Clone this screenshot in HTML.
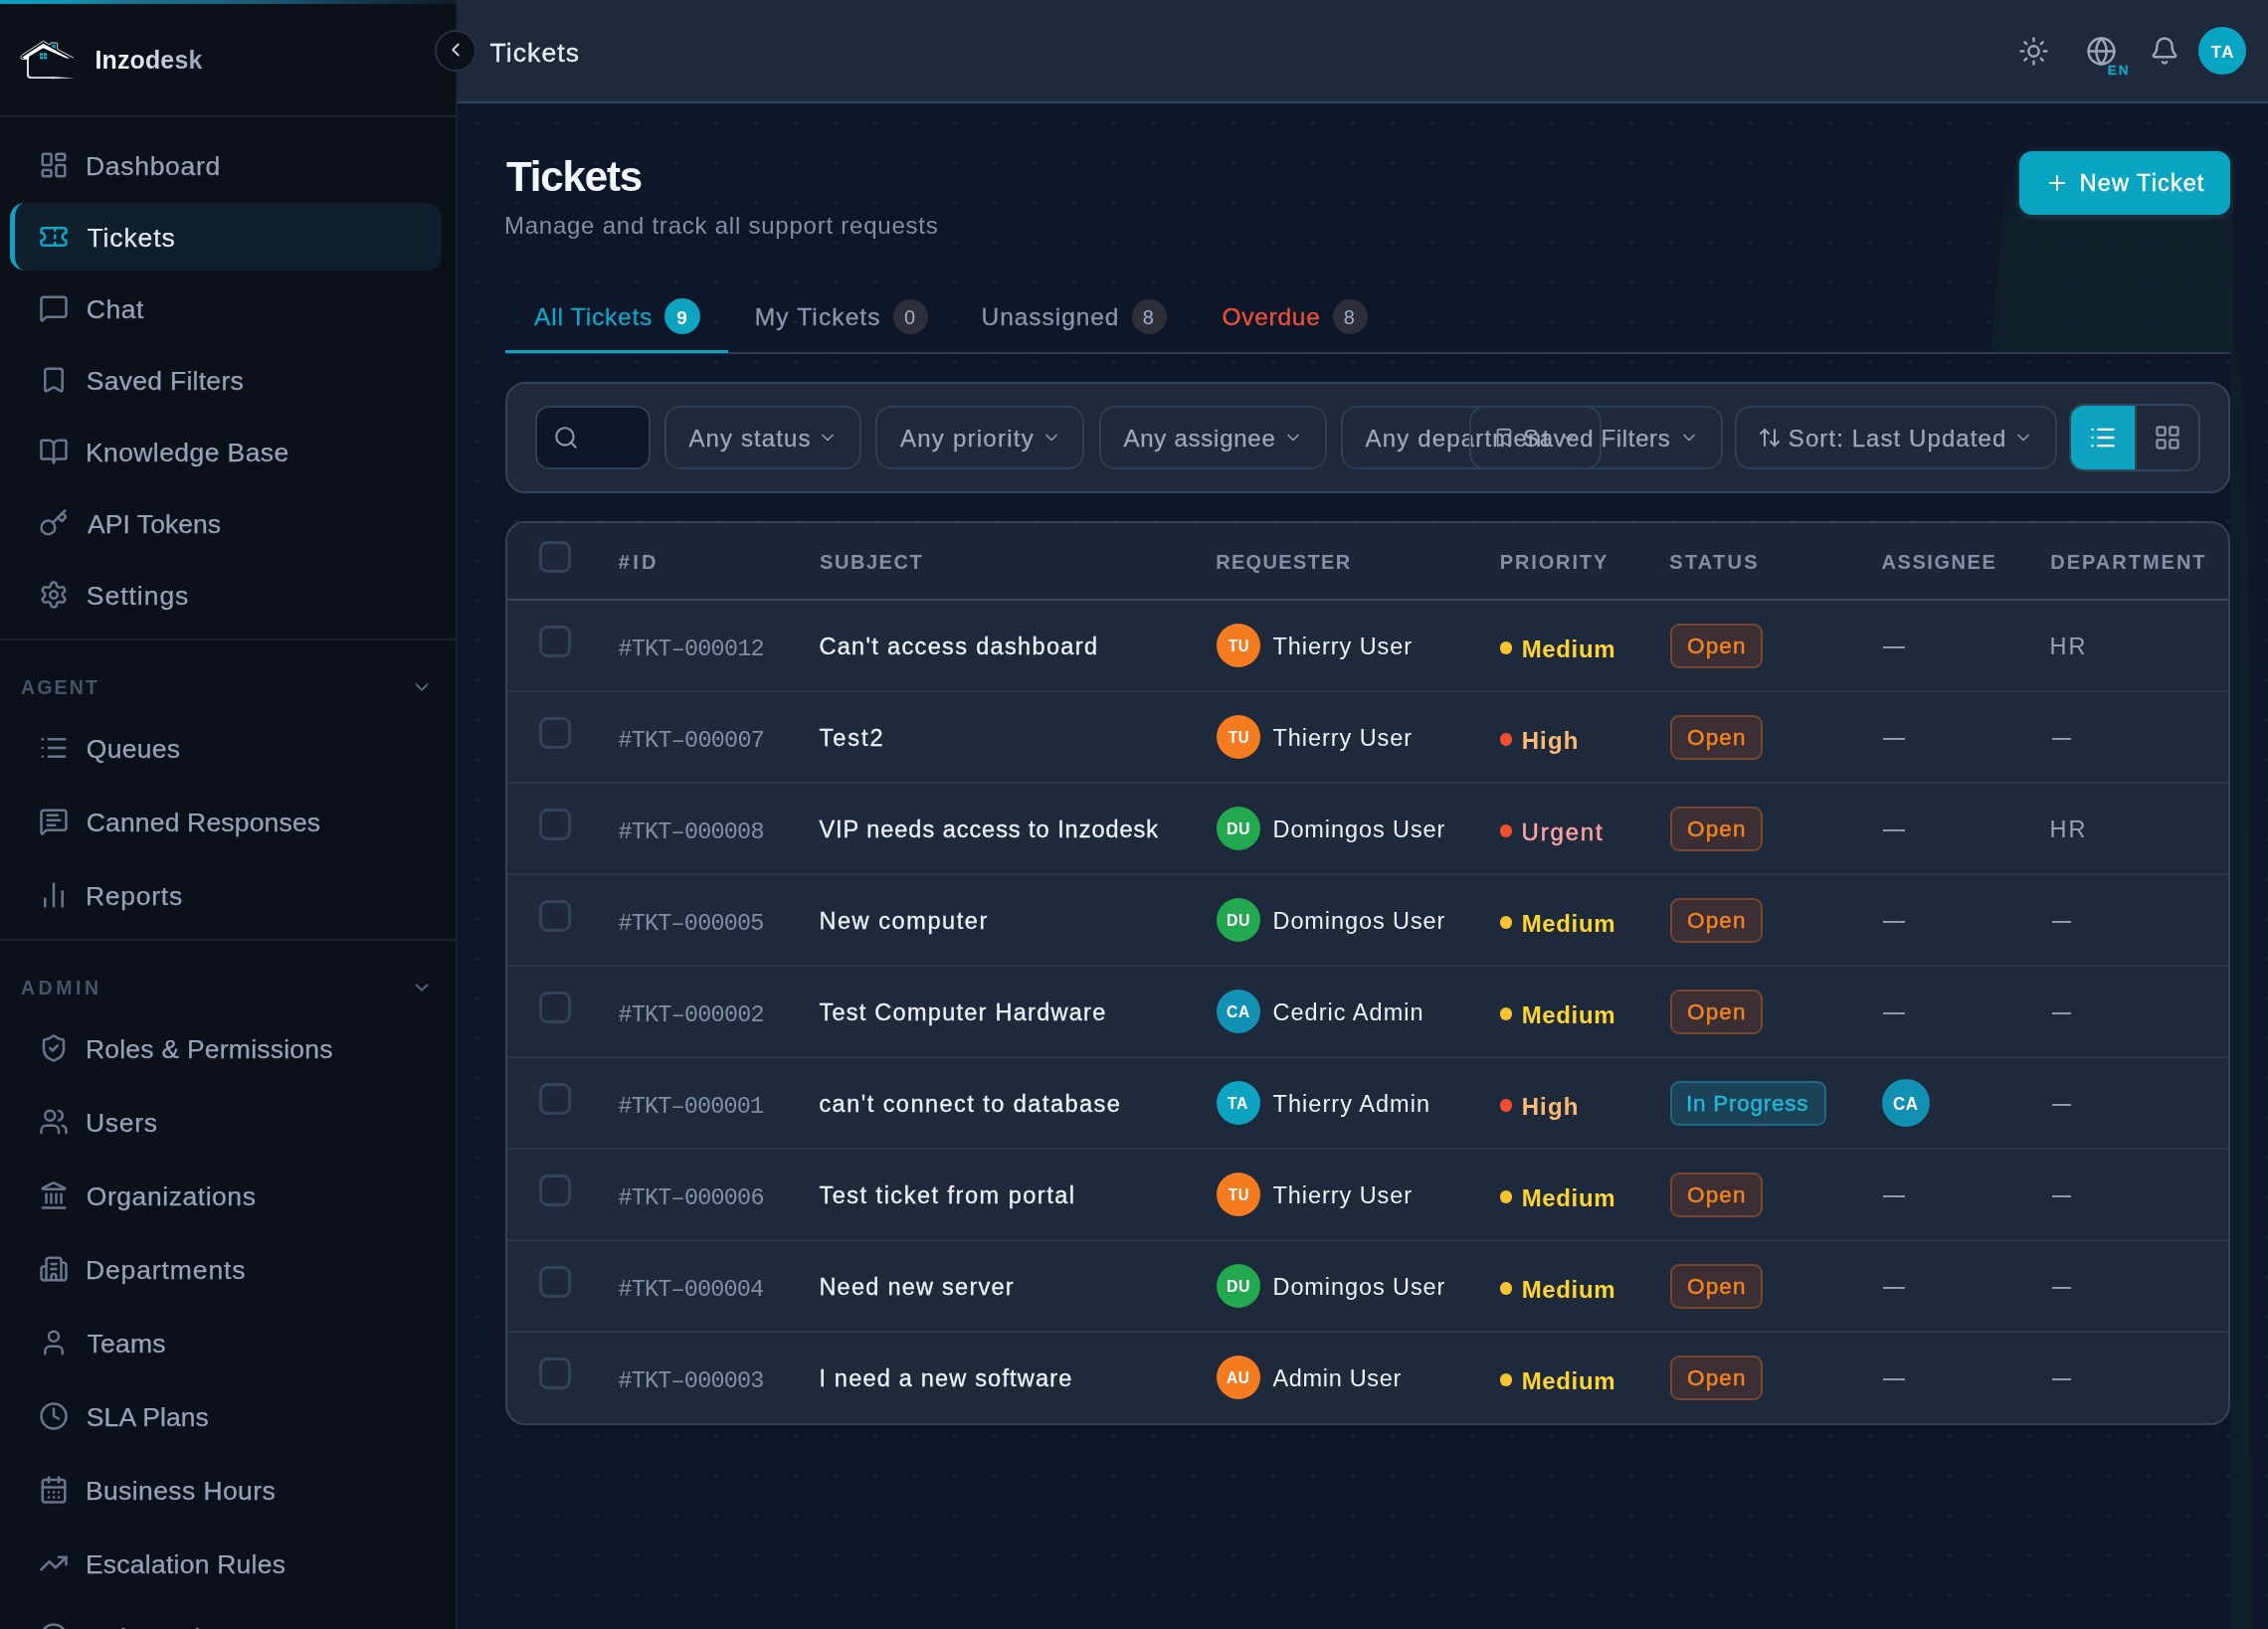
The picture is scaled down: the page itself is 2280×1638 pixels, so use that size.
<!DOCTYPE html><html lang="en"><head><meta charset="utf-8"><title>Tickets</title><style>html,body{margin:0;padding:0;background:#0e1629;}body{width:2280px;height:1638px;position:relative;overflow:hidden;font-family:"Liberation Sans",sans-serif;}</style></head><body><div style="position:absolute;left:0;top:0;width:2280px;height:1638px;will-change:transform"><div style="position:absolute;left:460px;top:104px;width:1820px;height:1534px;background-color:#0e1629;background-image:radial-gradient(circle at 20px 20px,#11262f 0,#11262f 1.3px,rgba(17,38,47,0) 2.8px);background-size:40px 40px;"></div><div style="position:absolute;left:1990px;top:150px;width:290px;height:1488px;background-color:rgba(16,74,46,0.175);-webkit-mask-image:linear-gradient(180deg,rgba(0,0,0,0) 8px,#000 72px);mask-image:linear-gradient(180deg,rgba(0,0,0,0) 8px,#000 72px);background-image:radial-gradient(circle at 20px 20px,#0f1a31 0,#0f1a31 1.8px,rgba(15,26,49,0) 3.2px);background-size:40px 40px;background-position:30px 34px;clip-path:polygon(29px 7px,254.5px 7px,257px 204px,266px 250px,269px 370px,272px 550px,273.5px 1488px,252.5px 1488px,252px 206px,11px 206px);"></div><div style="position:absolute;left:509.10px;top:156.50px;height:42px;line-height:42px;font-family:'Liberation Sans', sans-serif;font-size:42px;font-weight:700;letter-spacing:-1.15px;white-space:nowrap;color:#f3f6fa;">Tickets</div><div style="position:absolute;left:506.90px;top:214.70px;height:24px;line-height:24px;font-family:'Liberation Sans', sans-serif;font-size:24px;font-weight:400;letter-spacing:0.767px;white-space:nowrap;color:#7f90a9;">Manage and track all support requests</div><div style="position:absolute;left:2030px;top:152px;width:212px;height:64px;box-sizing:border-box;background:#0aa5c3;border-radius:13px;box-shadow:0 1px 8px rgba(90,112,138,0.42);"></div><div style="position:absolute;left:2056.0px;top:172.0px;width:24px;height:24px;color:#fff"><svg width="24" height="24" viewBox="0 0 24 24" fill="none" stroke="currentColor" stroke-width="2" stroke-linecap="round" stroke-linejoin="round" style="display:block;"><path d="M5 12h14"/><path d="M12 5v14"/></svg></div><div style="position:absolute;left:2090.70px;top:173.25px;height:23.5px;line-height:23.5px;font-family:'Liberation Sans', sans-serif;font-size:23.5px;font-weight:400;letter-spacing:1.078px;white-space:nowrap;color:#fff;-webkit-text-stroke:0.4px #fff;">New Ticket</div><div style="position:absolute;left:508px;top:354px;width:1734px;height:2px;box-sizing:border-box;background:#2c3b50"></div><div style="position:absolute;left:508px;top:352px;width:224px;height:3px;box-sizing:border-box;background:#0fa3c2"></div><div style="position:absolute;left:537.00px;top:306.75px;height:24.5px;line-height:24.5px;font-family:'Liberation Sans', sans-serif;font-size:24.5px;font-weight:400;letter-spacing:0.81px;white-space:nowrap;color:#13a6c5;-webkit-text-stroke:0.3px #13a6c5;">All Tickets</div><div style="position:absolute;left:668px;top:300px;width:36px;height:36px;box-sizing:border-box;border-radius:50%;background:#0fa3c2;"></div><div style="position:absolute;left:680.20px;top:309.50px;height:19px;line-height:19px;font-family:'Liberation Sans', sans-serif;font-size:19px;font-weight:700;letter-spacing:0px;white-space:nowrap;color:#fff;">9</div><div style="position:absolute;left:758.75px;top:306.75px;height:24.5px;line-height:24.5px;font-family:'Liberation Sans', sans-serif;font-size:24.5px;font-weight:400;letter-spacing:1.122px;white-space:nowrap;color:#8697b0;-webkit-text-stroke:0.3px #8697b0;">My Tickets</div><div style="position:absolute;left:897.5px;top:300.5px;width:35px;height:35px;box-sizing:border-box;border-radius:50%;background:#2d2f3b;"></div><div style="position:absolute;left:908.90px;top:309.00px;height:20px;line-height:20px;font-family:'Liberation Sans', sans-serif;font-size:20px;font-weight:400;letter-spacing:0px;white-space:nowrap;color:#9fb0c8;">0</div><div style="position:absolute;left:986.60px;top:306.75px;height:24.5px;line-height:24.5px;font-family:'Liberation Sans', sans-serif;font-size:24.5px;font-weight:400;letter-spacing:0.944px;white-space:nowrap;color:#8697b0;-webkit-text-stroke:0.3px #8697b0;">Unassigned</div><div style="position:absolute;left:1137.5px;top:300.5px;width:35px;height:35px;box-sizing:border-box;border-radius:50%;background:#2d2f3b;"></div><div style="position:absolute;left:1148.80px;top:309.00px;height:20px;line-height:20px;font-family:'Liberation Sans', sans-serif;font-size:20px;font-weight:400;letter-spacing:0px;white-space:nowrap;color:#9fb0c8;">8</div><div style="position:absolute;left:1228.40px;top:306.75px;height:24.5px;line-height:24.5px;font-family:'Liberation Sans', sans-serif;font-size:24.5px;font-weight:400;letter-spacing:0.742px;white-space:nowrap;color:#ee5135;-webkit-text-stroke:0.3px #ee5135;">Overdue</div><div style="position:absolute;left:1339.5px;top:300.5px;width:35px;height:35px;box-sizing:border-box;border-radius:50%;background:#2d2f3b;"></div><div style="position:absolute;left:1350.80px;top:309.00px;height:20px;line-height:20px;font-family:'Liberation Sans', sans-serif;font-size:20px;font-weight:400;letter-spacing:0px;white-space:nowrap;color:#9fb0c8;">8</div><div style="position:absolute;left:508px;top:384px;width:1734px;height:112px;box-sizing:border-box;background:#1e293b;border:2px solid #2f455e;border-radius:20px;"></div><div style="position:absolute;left:538px;top:408px;width:116px;height:64px;box-sizing:border-box;background:#0e162a;border:2px solid #2c4159;border-radius:14px;"></div><div style="position:absolute;left:556.0px;top:427.0px;width:26px;height:26px;color:#8797af"><svg width="26" height="26" viewBox="0 0 24 24" fill="none" stroke="currentColor" stroke-width="2" stroke-linecap="round" stroke-linejoin="round" style="display:block;"><circle cx="11" cy="11" r="8"/><path d="m21 21-4.3-4.3"/></svg></div><div style="position:absolute;left:668px;top:408px;width:198px;height:64px;box-sizing:border-box;border:2px solid #2c4159;border-radius:16px;"></div><div style="position:absolute;left:692.50px;top:428.70px;height:24px;line-height:24px;font-family:'Liberation Sans', sans-serif;font-size:24px;font-weight:400;letter-spacing:1.106px;white-space:nowrap;color:#9aa9bf;-webkit-text-stroke:0.25px #9aa9bf;">Any status</div><div style="position:absolute;left:822.0px;top:430.0px;width:20px;height:20px;color:#8d9db5"><svg width="20" height="20" viewBox="0 0 24 24" fill="none" stroke="currentColor" stroke-width="2" stroke-linecap="round" stroke-linejoin="round" style="display:block;"><path d="m6 9 6 6 6-6"/></svg></div><div style="position:absolute;left:880px;top:408px;width:210px;height:64px;box-sizing:border-box;border:2px solid #2c4159;border-radius:16px;"></div><div style="position:absolute;left:905.00px;top:428.70px;height:24px;line-height:24px;font-family:'Liberation Sans', sans-serif;font-size:24px;font-weight:400;letter-spacing:1.236px;white-space:nowrap;color:#9aa9bf;-webkit-text-stroke:0.25px #9aa9bf;">Any priority</div><div style="position:absolute;left:1047.0px;top:430.0px;width:20px;height:20px;color:#8d9db5"><svg width="20" height="20" viewBox="0 0 24 24" fill="none" stroke="currentColor" stroke-width="2" stroke-linecap="round" stroke-linejoin="round" style="display:block;"><path d="m6 9 6 6 6-6"/></svg></div><div style="position:absolute;left:1105px;top:408px;width:228.5px;height:64px;box-sizing:border-box;border:2px solid #2c4159;border-radius:16px;"></div><div style="position:absolute;left:1129.50px;top:428.70px;height:24px;line-height:24px;font-family:'Liberation Sans', sans-serif;font-size:24px;font-weight:400;letter-spacing:0.741px;white-space:nowrap;color:#9aa9bf;-webkit-text-stroke:0.25px #9aa9bf;">Any assignee</div><div style="position:absolute;left:1290.0px;top:430.0px;width:20px;height:20px;color:#8d9db5"><svg width="20" height="20" viewBox="0 0 24 24" fill="none" stroke="currentColor" stroke-width="2" stroke-linecap="round" stroke-linejoin="round" style="display:block;"><path d="m6 9 6 6 6-6"/></svg></div><div style="position:absolute;left:1348px;top:408px;width:262px;height:64px;box-sizing:border-box;border:2px solid #2c4159;border-radius:16px;"></div><div style="position:absolute;left:1372.60px;top:428.70px;height:24px;line-height:24px;font-family:'Liberation Sans', sans-serif;font-size:24px;font-weight:400;letter-spacing:1.169px;white-space:nowrap;color:#9aa9bf;-webkit-text-stroke:0.25px #9aa9bf;">Any department</div><div style="position:absolute;left:1567.0px;top:430.0px;width:20px;height:20px;color:#8d9db5"><svg width="20" height="20" viewBox="0 0 24 24" fill="none" stroke="currentColor" stroke-width="2" stroke-linecap="round" stroke-linejoin="round" style="display:block;"><path d="m6 9 6 6 6-6"/></svg></div><div style="position:absolute;left:1477px;top:408px;width:255px;height:64px;box-sizing:border-box;border:2px solid #2c4159;border-radius:16px;"></div><div style="position:absolute;left:1501.0px;top:429.0px;width:22px;height:22px;color:#8d9db5"><svg width="22" height="22" viewBox="0 0 24 24" fill="none" stroke="currentColor" stroke-width="2" stroke-linecap="round" stroke-linejoin="round" style="display:block;"><path d="M17 3a2 2 0 0 1 2 2v15a1 1 0 0 1-1.496.868l-4.512-2.578a2 2 0 0 0-1.984 0l-4.512 2.578A1 1 0 0 1 5 20V5a2 2 0 0 1 2-2z"/></svg></div><div style="position:absolute;left:1531.00px;top:428.70px;height:24px;line-height:24px;font-family:'Liberation Sans', sans-serif;font-size:24px;font-weight:400;letter-spacing:0.642px;white-space:nowrap;color:#9aa9bf;-webkit-text-stroke:0.25px #9aa9bf;">Saved Filters</div><div style="position:absolute;left:1687.5px;top:430.0px;width:20px;height:20px;color:#8d9db5"><svg width="20" height="20" viewBox="0 0 24 24" fill="none" stroke="currentColor" stroke-width="2" stroke-linecap="round" stroke-linejoin="round" style="display:block;"><path d="m6 9 6 6 6-6"/></svg></div><div style="position:absolute;left:1744px;top:408px;width:324px;height:64px;box-sizing:border-box;border:2px solid #2c4159;border-radius:16px;"></div><div style="position:absolute;left:1766.5px;top:428.0px;width:24px;height:24px;color:#9aa9bf"><svg width="24" height="24" viewBox="0 0 24 24" fill="none" stroke="currentColor" stroke-width="2" stroke-linecap="round" stroke-linejoin="round" style="display:block;"><path d="m21 16-4 4-4-4"/><path d="M17 20V4"/><path d="m3 8 4-4 4 4"/><path d="M7 4v16"/></svg></div><div style="position:absolute;left:1797.80px;top:428.70px;height:24px;line-height:24px;font-family:'Liberation Sans', sans-serif;font-size:24px;font-weight:400;letter-spacing:1.082px;white-space:nowrap;color:#9aa9bf;-webkit-text-stroke:0.25px #9aa9bf;">Sort: Last Updated</div><div style="position:absolute;left:2024.0px;top:430.0px;width:20px;height:20px;color:#8d9db5"><svg width="20" height="20" viewBox="0 0 24 24" fill="none" stroke="currentColor" stroke-width="2" stroke-linecap="round" stroke-linejoin="round" style="display:block;"><path d="m6 9 6 6 6-6"/></svg></div><div style="position:absolute;left:2080px;top:406px;width:132px;height:68px;box-sizing:border-box;border:2px solid #2f455e;border-radius:15px;overflow:hidden;"><div style="position:absolute;left:0;top:0;width:64px;height:64px;background:#0fa3c2"></div><div style="position:absolute;left:64px;top:0;width:2px;height:64px;background:#2f455e"></div></div><div style="position:absolute;left:2099.5px;top:426.0px;width:28px;height:28px;color:#fff"><svg width="28" height="28" viewBox="0 0 24 24" fill="none" stroke="currentColor" stroke-width="2" stroke-linecap="round" stroke-linejoin="round" style="display:block;"><path d="M3 5h.01"/><path d="M3 12h.01"/><path d="M3 19h.01"/><path d="M8 5h13"/><path d="M8 12h13"/><path d="M8 19h13"/></svg></div><div style="position:absolute;left:2164.5px;top:426.0px;width:28px;height:28px;color:#8595ad"><svg width="28" height="28" viewBox="0 0 24 24" fill="none" stroke="currentColor" stroke-width="2" stroke-linecap="round" stroke-linejoin="round" style="display:block;"><rect width="7" height="7" x="3" y="3" rx="1"/><rect width="7" height="7" x="14" y="3" rx="1"/><rect width="7" height="7" x="14" y="14" rx="1"/><rect width="7" height="7" x="3" y="14" rx="1"/></svg></div><div style="position:absolute;left:508px;top:524px;width:1734px;height:909px;box-sizing:border-box;background:#1f293c;border:2px solid #2f455e;border-radius:20px;overflow:hidden;"><div style="position:absolute;left:0;top:0;width:1734px;height:76px;background:#1d2638"></div><div style="position:absolute;left:0;top:76px;width:1734px;height:2px;background:#3f4452"></div><div style="position:absolute;left:0;top:168px;width:1734px;height:2px;background:#27384d"></div><div style="position:absolute;left:0;top:260px;width:1734px;height:2px;background:#27384d"></div><div style="position:absolute;left:0;top:352px;width:1734px;height:2px;background:#27384d"></div><div style="position:absolute;left:0;top:444px;width:1734px;height:2px;background:#27384d"></div><div style="position:absolute;left:0;top:536px;width:1734px;height:2px;background:#27384d"></div><div style="position:absolute;left:0;top:628px;width:1734px;height:2px;background:#27384d"></div><div style="position:absolute;left:0;top:720px;width:1734px;height:2px;background:#27384d"></div><div style="position:absolute;left:0;top:812px;width:1734px;height:2px;background:#27384d"></div></div><div style="position:absolute;left:542px;top:544px;width:32px;height:32px;box-sizing:border-box;border:3px solid #30455d;border-radius:8.5px;background:#1e283a;"></div><div style="position:absolute;left:621.70px;top:555.20px;height:20px;line-height:20px;font-family:'Liberation Sans', sans-serif;font-size:20px;font-weight:700;letter-spacing:3.325px;white-space:nowrap;color:#8191aa;">#ID</div><div style="position:absolute;left:824.00px;top:555.20px;height:20px;line-height:20px;font-family:'Liberation Sans', sans-serif;font-size:20px;font-weight:700;letter-spacing:1.55px;white-space:nowrap;color:#8191aa;">SUBJECT</div><div style="position:absolute;left:1222.20px;top:555.20px;height:20px;line-height:20px;font-family:'Liberation Sans', sans-serif;font-size:20px;font-weight:700;letter-spacing:1.313px;white-space:nowrap;color:#8191aa;">REQUESTER</div><div style="position:absolute;left:1507.70px;top:555.20px;height:20px;line-height:20px;font-family:'Liberation Sans', sans-serif;font-size:20px;font-weight:700;letter-spacing:1.871px;white-space:nowrap;color:#8191aa;">PRIORITY</div><div style="position:absolute;left:1678.30px;top:555.20px;height:20px;line-height:20px;font-family:'Liberation Sans', sans-serif;font-size:20px;font-weight:700;letter-spacing:2.24px;white-space:nowrap;color:#8191aa;">STATUS</div><div style="position:absolute;left:1891.50px;top:555.20px;height:20px;line-height:20px;font-family:'Liberation Sans', sans-serif;font-size:20px;font-weight:700;letter-spacing:1.557px;white-space:nowrap;color:#8191aa;">ASSIGNEE</div><div style="position:absolute;left:2061.20px;top:555.20px;height:20px;line-height:20px;font-family:'Liberation Sans', sans-serif;font-size:20px;font-weight:700;letter-spacing:2.0px;white-space:nowrap;color:#8191aa;">DEPARTMENT</div><div style="position:absolute;left:542px;top:629px;width:32px;height:32px;box-sizing:border-box;border:3px solid #30455d;border-radius:8.5px;background:#1e283a;"></div><div style="position:absolute;left:621.40px;top:640.55px;height:23.5px;line-height:23.5px;font-family:'Liberation Mono', monospace;font-size:23.5px;font-weight:400;letter-spacing:-0.79px;white-space:nowrap;color:#7e8fa9;">#TKT–000012</div><div style="position:absolute;left:823.40px;top:639.25px;height:23.5px;line-height:23.5px;font-family:'Liberation Sans', sans-serif;font-size:23.5px;font-weight:400;letter-spacing:1.343px;white-space:nowrap;color:#eef2f7;-webkit-text-stroke:0.3px #eef2f7;">Can't access dashboard</div><div style="position:absolute;left:1223px;top:627px;width:44px;height:44px;box-sizing:border-box;border-radius:50%;background:#f47b20;"></div><div style="position:absolute;left:1234.50px;top:640.90px;height:17px;line-height:17px;font-family:'Liberation Sans', sans-serif;font-size:17px;font-weight:700;letter-spacing:0.6px;white-space:nowrap;color:#fff;transform:scaleX(0.883);transform-origin:0.10px 50%;">TU</div><div style="position:absolute;left:1279.50px;top:639.35px;height:23.5px;line-height:23.5px;font-family:'Liberation Sans', sans-serif;font-size:23.5px;font-weight:400;letter-spacing:0.941px;white-space:nowrap;color:#eef2f7;">Thierry User</div><div style="position:absolute;left:1507.5px;top:645px;width:12.5px;height:12.5px;box-sizing:border-box;border-radius:50%;background:#f7c331;"></div><div style="position:absolute;left:1529.70px;top:640.60px;height:24px;line-height:24px;font-family:'Liberation Sans', sans-serif;font-size:24px;font-weight:700;letter-spacing:0.63px;white-space:nowrap;color:#fcd535;">Medium</div><div style="position:absolute;left:1678.9px;top:627.2px;width:93px;height:44.6px;box-sizing:border-box;border-radius:9px;background:#3b2f35;border:2px solid #78462f;"></div><div style="position:absolute;left:1696.00px;top:639.15px;height:22.5px;line-height:22.5px;font-family:'Liberation Sans', sans-serif;font-size:22.5px;font-weight:400;letter-spacing:1.133px;white-space:nowrap;color:#f6851f;-webkit-text-stroke:0.45px #f6851f;">Open</div><div style="position:absolute;left:1892.7px;top:649.5px;width:22.3px;height:2px;box-sizing:border-box;background:#8c9bb2"></div><div style="position:absolute;left:2060.60px;top:638.65px;height:23.5px;line-height:23.5px;font-family:'Liberation Sans', sans-serif;font-size:23.5px;font-weight:400;letter-spacing:2.0px;white-space:nowrap;color:#94a3b8;">HR</div><div style="position:absolute;left:542px;top:721px;width:32px;height:32px;box-sizing:border-box;border:3px solid #30455d;border-radius:8.5px;background:#1e283a;"></div><div style="position:absolute;left:621.40px;top:732.55px;height:23.5px;line-height:23.5px;font-family:'Liberation Mono', monospace;font-size:23.5px;font-weight:400;letter-spacing:-0.77px;white-space:nowrap;color:#7e8fa9;">#TKT–000007</div><div style="position:absolute;left:823.40px;top:731.25px;height:23.5px;line-height:23.5px;font-family:'Liberation Sans', sans-serif;font-size:23.5px;font-weight:400;letter-spacing:2.025px;white-space:nowrap;color:#eef2f7;-webkit-text-stroke:0.3px #eef2f7;">Test2</div><div style="position:absolute;left:1223px;top:719px;width:44px;height:44px;box-sizing:border-box;border-radius:50%;background:#f47b20;"></div><div style="position:absolute;left:1234.50px;top:732.90px;height:17px;line-height:17px;font-family:'Liberation Sans', sans-serif;font-size:17px;font-weight:700;letter-spacing:0.6px;white-space:nowrap;color:#fff;transform:scaleX(0.883);transform-origin:0.10px 50%;">TU</div><div style="position:absolute;left:1279.50px;top:731.35px;height:23.5px;line-height:23.5px;font-family:'Liberation Sans', sans-serif;font-size:23.5px;font-weight:400;letter-spacing:0.941px;white-space:nowrap;color:#eef2f7;">Thierry User</div><div style="position:absolute;left:1507.5px;top:737px;width:12.5px;height:12.5px;box-sizing:border-box;border-radius:50%;background:#f0502f;"></div><div style="position:absolute;left:1529.70px;top:732.60px;height:24px;line-height:24px;font-family:'Liberation Sans', sans-serif;font-size:24px;font-weight:700;letter-spacing:1.1px;white-space:nowrap;color:#fdba74;">High</div><div style="position:absolute;left:1678.9px;top:719.2px;width:93px;height:44.6px;box-sizing:border-box;border-radius:9px;background:#3b2f35;border:2px solid #78462f;"></div><div style="position:absolute;left:1696.00px;top:731.15px;height:22.5px;line-height:22.5px;font-family:'Liberation Sans', sans-serif;font-size:22.5px;font-weight:400;letter-spacing:1.133px;white-space:nowrap;color:#f6851f;-webkit-text-stroke:0.45px #f6851f;">Open</div><div style="position:absolute;left:1892.7px;top:741.5px;width:22.3px;height:2px;box-sizing:border-box;background:#8c9bb2"></div><div style="position:absolute;left:2063px;top:741.5px;width:19px;height:2px;box-sizing:border-box;background:#8c9bb2"></div><div style="position:absolute;left:542px;top:813px;width:32px;height:32px;box-sizing:border-box;border:3px solid #30455d;border-radius:8.5px;background:#1e283a;"></div><div style="position:absolute;left:621.40px;top:824.55px;height:23.5px;line-height:23.5px;font-family:'Liberation Mono', monospace;font-size:23.5px;font-weight:400;letter-spacing:-0.8px;white-space:nowrap;color:#7e8fa9;">#TKT–000008</div><div style="position:absolute;left:823.40px;top:823.25px;height:23.5px;line-height:23.5px;font-family:'Liberation Sans', sans-serif;font-size:23.5px;font-weight:400;letter-spacing:0.97px;white-space:nowrap;color:#eef2f7;-webkit-text-stroke:0.3px #eef2f7;">VIP needs access to Inzodesk</div><div style="position:absolute;left:1223px;top:811px;width:44px;height:44px;box-sizing:border-box;border-radius:50%;background:#22a84f;"></div><div style="position:absolute;left:1232.50px;top:824.90px;height:17px;line-height:17px;font-family:'Liberation Sans', sans-serif;font-size:17px;font-weight:700;letter-spacing:0.6px;white-space:nowrap;color:#fff;transform:scaleX(0.935);transform-origin:1.10px 50%;">DU</div><div style="position:absolute;left:1279.50px;top:823.35px;height:23.5px;line-height:23.5px;font-family:'Liberation Sans', sans-serif;font-size:23.5px;font-weight:400;letter-spacing:0.908px;white-space:nowrap;color:#eef2f7;">Domingos User</div><div style="position:absolute;left:1507.5px;top:829px;width:12.5px;height:12.5px;box-sizing:border-box;border-radius:50%;background:#f0502f;"></div><div style="position:absolute;left:1529.50px;top:824.60px;height:24px;line-height:24px;font-family:'Liberation Sans', sans-serif;font-size:24px;font-weight:400;letter-spacing:1.82px;white-space:nowrap;color:#fca5a5;-webkit-text-stroke:0.45px #fca5a5;">Urgent</div><div style="position:absolute;left:1678.9px;top:811.2px;width:93px;height:44.6px;box-sizing:border-box;border-radius:9px;background:#3b2f35;border:2px solid #78462f;"></div><div style="position:absolute;left:1696.00px;top:823.15px;height:22.5px;line-height:22.5px;font-family:'Liberation Sans', sans-serif;font-size:22.5px;font-weight:400;letter-spacing:1.133px;white-space:nowrap;color:#f6851f;-webkit-text-stroke:0.45px #f6851f;">Open</div><div style="position:absolute;left:1892.7px;top:833.5px;width:22.3px;height:2px;box-sizing:border-box;background:#8c9bb2"></div><div style="position:absolute;left:2060.60px;top:822.65px;height:23.5px;line-height:23.5px;font-family:'Liberation Sans', sans-serif;font-size:23.5px;font-weight:400;letter-spacing:2.0px;white-space:nowrap;color:#94a3b8;">HR</div><div style="position:absolute;left:542px;top:905px;width:32px;height:32px;box-sizing:border-box;border:3px solid #30455d;border-radius:8.5px;background:#1e283a;"></div><div style="position:absolute;left:621.40px;top:916.55px;height:23.5px;line-height:23.5px;font-family:'Liberation Mono', monospace;font-size:23.5px;font-weight:400;letter-spacing:-0.81px;white-space:nowrap;color:#7e8fa9;">#TKT–000005</div><div style="position:absolute;left:823.40px;top:915.25px;height:23.5px;line-height:23.5px;font-family:'Liberation Sans', sans-serif;font-size:23.5px;font-weight:400;letter-spacing:1.582px;white-space:nowrap;color:#eef2f7;-webkit-text-stroke:0.3px #eef2f7;">New computer</div><div style="position:absolute;left:1223px;top:903px;width:44px;height:44px;box-sizing:border-box;border-radius:50%;background:#22a84f;"></div><div style="position:absolute;left:1232.50px;top:916.90px;height:17px;line-height:17px;font-family:'Liberation Sans', sans-serif;font-size:17px;font-weight:700;letter-spacing:0.6px;white-space:nowrap;color:#fff;transform:scaleX(0.935);transform-origin:1.10px 50%;">DU</div><div style="position:absolute;left:1279.50px;top:915.35px;height:23.5px;line-height:23.5px;font-family:'Liberation Sans', sans-serif;font-size:23.5px;font-weight:400;letter-spacing:0.908px;white-space:nowrap;color:#eef2f7;">Domingos User</div><div style="position:absolute;left:1507.5px;top:921px;width:12.5px;height:12.5px;box-sizing:border-box;border-radius:50%;background:#f7c331;"></div><div style="position:absolute;left:1529.70px;top:916.60px;height:24px;line-height:24px;font-family:'Liberation Sans', sans-serif;font-size:24px;font-weight:700;letter-spacing:0.63px;white-space:nowrap;color:#fcd535;">Medium</div><div style="position:absolute;left:1678.9px;top:903.2px;width:93px;height:44.6px;box-sizing:border-box;border-radius:9px;background:#3b2f35;border:2px solid #78462f;"></div><div style="position:absolute;left:1696.00px;top:915.15px;height:22.5px;line-height:22.5px;font-family:'Liberation Sans', sans-serif;font-size:22.5px;font-weight:400;letter-spacing:1.133px;white-space:nowrap;color:#f6851f;-webkit-text-stroke:0.45px #f6851f;">Open</div><div style="position:absolute;left:1892.7px;top:925.5px;width:22.3px;height:2px;box-sizing:border-box;background:#8c9bb2"></div><div style="position:absolute;left:2063px;top:925.5px;width:19px;height:2px;box-sizing:border-box;background:#8c9bb2"></div><div style="position:absolute;left:542px;top:997px;width:32px;height:32px;box-sizing:border-box;border:3px solid #30455d;border-radius:8.5px;background:#1e283a;"></div><div style="position:absolute;left:621.40px;top:1008.55px;height:23.5px;line-height:23.5px;font-family:'Liberation Mono', monospace;font-size:23.5px;font-weight:400;letter-spacing:-0.79px;white-space:nowrap;color:#7e8fa9;">#TKT–000002</div><div style="position:absolute;left:823.40px;top:1007.25px;height:23.5px;line-height:23.5px;font-family:'Liberation Sans', sans-serif;font-size:23.5px;font-weight:400;letter-spacing:1.271px;white-space:nowrap;color:#eef2f7;-webkit-text-stroke:0.3px #eef2f7;">Test Computer Hardware</div><div style="position:absolute;left:1223px;top:995px;width:44px;height:44px;box-sizing:border-box;border-radius:50%;background:#1391b4;"></div><div style="position:absolute;left:1232.65px;top:1008.90px;height:17px;line-height:17px;font-family:'Liberation Sans', sans-serif;font-size:17px;font-weight:700;letter-spacing:0.6px;white-space:nowrap;color:#fff;transform:scaleX(0.921);transform-origin:0.60px 50%;">CA</div><div style="position:absolute;left:1279.50px;top:1007.35px;height:23.5px;line-height:23.5px;font-family:'Liberation Sans', sans-serif;font-size:23.5px;font-weight:400;letter-spacing:1.027px;white-space:nowrap;color:#eef2f7;">Cedric Admin</div><div style="position:absolute;left:1507.5px;top:1013px;width:12.5px;height:12.5px;box-sizing:border-box;border-radius:50%;background:#f7c331;"></div><div style="position:absolute;left:1529.70px;top:1008.60px;height:24px;line-height:24px;font-family:'Liberation Sans', sans-serif;font-size:24px;font-weight:700;letter-spacing:0.63px;white-space:nowrap;color:#fcd535;">Medium</div><div style="position:absolute;left:1678.9px;top:995.2px;width:93px;height:44.6px;box-sizing:border-box;border-radius:9px;background:#3b2f35;border:2px solid #78462f;"></div><div style="position:absolute;left:1696.00px;top:1007.15px;height:22.5px;line-height:22.5px;font-family:'Liberation Sans', sans-serif;font-size:22.5px;font-weight:400;letter-spacing:1.133px;white-space:nowrap;color:#f6851f;-webkit-text-stroke:0.45px #f6851f;">Open</div><div style="position:absolute;left:1892.7px;top:1017.5px;width:22.3px;height:2px;box-sizing:border-box;background:#8c9bb2"></div><div style="position:absolute;left:2063px;top:1017.5px;width:19px;height:2px;box-sizing:border-box;background:#8c9bb2"></div><div style="position:absolute;left:542px;top:1089px;width:32px;height:32px;box-sizing:border-box;border:3px solid #30455d;border-radius:8.5px;background:#1e283a;"></div><div style="position:absolute;left:621.40px;top:1100.55px;height:23.5px;line-height:23.5px;font-family:'Liberation Mono', monospace;font-size:23.5px;font-weight:400;letter-spacing:-0.84px;white-space:nowrap;color:#7e8fa9;">#TKT–000001</div><div style="position:absolute;left:823.40px;top:1099.25px;height:23.5px;line-height:23.5px;font-family:'Liberation Sans', sans-serif;font-size:23.5px;font-weight:400;letter-spacing:1.471px;white-space:nowrap;color:#eef2f7;-webkit-text-stroke:0.3px #eef2f7;">can't connect to database</div><div style="position:absolute;left:1223px;top:1087px;width:44px;height:44px;box-sizing:border-box;border-radius:50%;background:#0fa3c2;"></div><div style="position:absolute;left:1234.40px;top:1100.90px;height:17px;line-height:17px;font-family:'Liberation Sans', sans-serif;font-size:17px;font-weight:700;letter-spacing:0.6px;white-space:nowrap;color:#fff;transform:scaleX(0.921);transform-origin:0.10px 50%;">TA</div><div style="position:absolute;left:1279.50px;top:1099.35px;height:23.5px;line-height:23.5px;font-family:'Liberation Sans', sans-serif;font-size:23.5px;font-weight:400;letter-spacing:1.05px;white-space:nowrap;color:#eef2f7;">Thierry Admin</div><div style="position:absolute;left:1507.5px;top:1105px;width:12.5px;height:12.5px;box-sizing:border-box;border-radius:50%;background:#f0502f;"></div><div style="position:absolute;left:1529.70px;top:1100.60px;height:24px;line-height:24px;font-family:'Liberation Sans', sans-serif;font-size:24px;font-weight:700;letter-spacing:1.1px;white-space:nowrap;color:#fdba74;">High</div><div style="position:absolute;left:1678.9px;top:1087.2px;width:157px;height:44.6px;box-sizing:border-box;border-radius:9px;background:#1c4258;border:2px solid #1f6985;"></div><div style="position:absolute;left:1695.00px;top:1099.15px;height:22.5px;line-height:22.5px;font-family:'Liberation Sans', sans-serif;font-size:22.5px;font-weight:400;letter-spacing:0.75px;white-space:nowrap;color:#22b8d8;-webkit-text-stroke:0.45px #22b8d8;">In Progress</div><div style="position:absolute;left:1892px;top:1085.3px;width:48px;height:48px;box-sizing:border-box;border-radius:50%;background:#1391b4;"></div><div style="position:absolute;left:1903.30px;top:1100.30px;height:19px;line-height:19px;font-family:'Liberation Sans', sans-serif;font-size:19px;font-weight:700;letter-spacing:0.6px;white-space:nowrap;color:#fff;transform:scaleX(0.892);transform-origin:0.70px 50%;">CA</div><div style="position:absolute;left:2063px;top:1109.5px;width:19px;height:2px;box-sizing:border-box;background:#8c9bb2"></div><div style="position:absolute;left:542px;top:1181px;width:32px;height:32px;box-sizing:border-box;border:3px solid #30455d;border-radius:8.5px;background:#1e283a;"></div><div style="position:absolute;left:621.40px;top:1192.55px;height:23.5px;line-height:23.5px;font-family:'Liberation Mono', monospace;font-size:23.5px;font-weight:400;letter-spacing:-0.8px;white-space:nowrap;color:#7e8fa9;">#TKT–000006</div><div style="position:absolute;left:823.40px;top:1191.25px;height:23.5px;line-height:23.5px;font-family:'Liberation Sans', sans-serif;font-size:23.5px;font-weight:400;letter-spacing:1.514px;white-space:nowrap;color:#eef2f7;-webkit-text-stroke:0.3px #eef2f7;">Test ticket from portal</div><div style="position:absolute;left:1223px;top:1179px;width:44px;height:44px;box-sizing:border-box;border-radius:50%;background:#f47b20;"></div><div style="position:absolute;left:1234.50px;top:1192.90px;height:17px;line-height:17px;font-family:'Liberation Sans', sans-serif;font-size:17px;font-weight:700;letter-spacing:0.6px;white-space:nowrap;color:#fff;transform:scaleX(0.883);transform-origin:0.10px 50%;">TU</div><div style="position:absolute;left:1279.50px;top:1191.35px;height:23.5px;line-height:23.5px;font-family:'Liberation Sans', sans-serif;font-size:23.5px;font-weight:400;letter-spacing:0.941px;white-space:nowrap;color:#eef2f7;">Thierry User</div><div style="position:absolute;left:1507.5px;top:1197px;width:12.5px;height:12.5px;box-sizing:border-box;border-radius:50%;background:#f7c331;"></div><div style="position:absolute;left:1529.70px;top:1192.60px;height:24px;line-height:24px;font-family:'Liberation Sans', sans-serif;font-size:24px;font-weight:700;letter-spacing:0.63px;white-space:nowrap;color:#fcd535;">Medium</div><div style="position:absolute;left:1678.9px;top:1179.2px;width:93px;height:44.6px;box-sizing:border-box;border-radius:9px;background:#3b2f35;border:2px solid #78462f;"></div><div style="position:absolute;left:1696.00px;top:1191.15px;height:22.5px;line-height:22.5px;font-family:'Liberation Sans', sans-serif;font-size:22.5px;font-weight:400;letter-spacing:1.133px;white-space:nowrap;color:#f6851f;-webkit-text-stroke:0.45px #f6851f;">Open</div><div style="position:absolute;left:1892.7px;top:1201.5px;width:22.3px;height:2px;box-sizing:border-box;background:#8c9bb2"></div><div style="position:absolute;left:2063px;top:1201.5px;width:19px;height:2px;box-sizing:border-box;background:#8c9bb2"></div><div style="position:absolute;left:542px;top:1273px;width:32px;height:32px;box-sizing:border-box;border:3px solid #30455d;border-radius:8.5px;background:#1e283a;"></div><div style="position:absolute;left:621.40px;top:1284.55px;height:23.5px;line-height:23.5px;font-family:'Liberation Mono', monospace;font-size:23.5px;font-weight:400;letter-spacing:-0.84px;white-space:nowrap;color:#7e8fa9;">#TKT–000004</div><div style="position:absolute;left:823.40px;top:1283.25px;height:23.5px;line-height:23.5px;font-family:'Liberation Sans', sans-serif;font-size:23.5px;font-weight:400;letter-spacing:1.257px;white-space:nowrap;color:#eef2f7;-webkit-text-stroke:0.3px #eef2f7;">Need new server</div><div style="position:absolute;left:1223px;top:1271px;width:44px;height:44px;box-sizing:border-box;border-radius:50%;background:#22a84f;"></div><div style="position:absolute;left:1232.50px;top:1284.90px;height:17px;line-height:17px;font-family:'Liberation Sans', sans-serif;font-size:17px;font-weight:700;letter-spacing:0.6px;white-space:nowrap;color:#fff;transform:scaleX(0.935);transform-origin:1.10px 50%;">DU</div><div style="position:absolute;left:1279.50px;top:1283.35px;height:23.5px;line-height:23.5px;font-family:'Liberation Sans', sans-serif;font-size:23.5px;font-weight:400;letter-spacing:0.908px;white-space:nowrap;color:#eef2f7;">Domingos User</div><div style="position:absolute;left:1507.5px;top:1289px;width:12.5px;height:12.5px;box-sizing:border-box;border-radius:50%;background:#f7c331;"></div><div style="position:absolute;left:1529.70px;top:1284.60px;height:24px;line-height:24px;font-family:'Liberation Sans', sans-serif;font-size:24px;font-weight:700;letter-spacing:0.63px;white-space:nowrap;color:#fcd535;">Medium</div><div style="position:absolute;left:1678.9px;top:1271.2px;width:93px;height:44.6px;box-sizing:border-box;border-radius:9px;background:#3b2f35;border:2px solid #78462f;"></div><div style="position:absolute;left:1696.00px;top:1283.15px;height:22.5px;line-height:22.5px;font-family:'Liberation Sans', sans-serif;font-size:22.5px;font-weight:400;letter-spacing:1.133px;white-space:nowrap;color:#f6851f;-webkit-text-stroke:0.45px #f6851f;">Open</div><div style="position:absolute;left:1892.7px;top:1293.5px;width:22.3px;height:2px;box-sizing:border-box;background:#8c9bb2"></div><div style="position:absolute;left:2063px;top:1293.5px;width:19px;height:2px;box-sizing:border-box;background:#8c9bb2"></div><div style="position:absolute;left:542px;top:1365px;width:32px;height:32px;box-sizing:border-box;border:3px solid #30455d;border-radius:8.5px;background:#1e283a;"></div><div style="position:absolute;left:621.40px;top:1376.55px;height:23.5px;line-height:23.5px;font-family:'Liberation Mono', monospace;font-size:23.5px;font-weight:400;letter-spacing:-0.81px;white-space:nowrap;color:#7e8fa9;">#TKT–000003</div><div style="position:absolute;left:823.40px;top:1375.25px;height:23.5px;line-height:23.5px;font-family:'Liberation Sans', sans-serif;font-size:23.5px;font-weight:400;letter-spacing:1.205px;white-space:nowrap;color:#eef2f7;-webkit-text-stroke:0.3px #eef2f7;">I need a new software</div><div style="position:absolute;left:1223px;top:1363px;width:44px;height:44px;box-sizing:border-box;border-radius:50%;background:#f47b20;"></div><div style="position:absolute;left:1233.20px;top:1376.90px;height:17px;line-height:17px;font-family:'Liberation Sans', sans-serif;font-size:17px;font-weight:700;letter-spacing:0.6px;white-space:nowrap;color:#fff;transform:scaleX(0.908);transform-origin:0.40px 50%;">AU</div><div style="position:absolute;left:1279.50px;top:1375.35px;height:23.5px;line-height:23.5px;font-family:'Liberation Sans', sans-serif;font-size:23.5px;font-weight:400;letter-spacing:0.667px;white-space:nowrap;color:#eef2f7;">Admin User</div><div style="position:absolute;left:1507.5px;top:1381px;width:12.5px;height:12.5px;box-sizing:border-box;border-radius:50%;background:#f7c331;"></div><div style="position:absolute;left:1529.70px;top:1376.60px;height:24px;line-height:24px;font-family:'Liberation Sans', sans-serif;font-size:24px;font-weight:700;letter-spacing:0.63px;white-space:nowrap;color:#fcd535;">Medium</div><div style="position:absolute;left:1678.9px;top:1363.2px;width:93px;height:44.6px;box-sizing:border-box;border-radius:9px;background:#3b2f35;border:2px solid #78462f;"></div><div style="position:absolute;left:1696.00px;top:1375.15px;height:22.5px;line-height:22.5px;font-family:'Liberation Sans', sans-serif;font-size:22.5px;font-weight:400;letter-spacing:1.133px;white-space:nowrap;color:#f6851f;-webkit-text-stroke:0.45px #f6851f;">Open</div><div style="position:absolute;left:1892.7px;top:1385.5px;width:22.3px;height:2px;box-sizing:border-box;background:#8c9bb2"></div><div style="position:absolute;left:2063px;top:1385.5px;width:19px;height:2px;box-sizing:border-box;background:#8c9bb2"></div><div style="position:absolute;left:460px;top:0px;width:1820px;height:104px;box-sizing:border-box;background:#1e293b;border-bottom:2px solid #2d4561;"></div><div style="position:absolute;left:492.50px;top:40.25px;height:26.5px;line-height:26.5px;font-family:'Liberation Sans', sans-serif;font-size:26.5px;font-weight:400;letter-spacing:1.083px;white-space:nowrap;color:#e8edf4;-webkit-text-stroke:0.3px #e8edf4;">Tickets</div><div style="position:absolute;left:2028.5px;top:35.5px;width:31px;height:31px;color:#9aa8bc"><svg width="31" height="31" viewBox="0 0 24 24" fill="none" stroke="currentColor" stroke-width="1.9" stroke-linecap="round" stroke-linejoin="round" style="display:block;"><circle cx="12" cy="12" r="4"/><path d="M12 2v2"/><path d="M12 20v2"/><path d="m4.93 4.93 1.41 1.41"/><path d="m17.66 17.66 1.41 1.41"/><path d="M2 12h2"/><path d="M20 12h2"/><path d="m6.34 17.66-1.41 1.41"/><path d="m19.07 4.93-1.41 1.41"/></svg></div><div style="position:absolute;left:2096.5px;top:35.5px;width:31px;height:31px;color:#9aa8bc"><svg width="31" height="31" viewBox="0 0 24 24" fill="none" stroke="currentColor" stroke-width="1.9" stroke-linecap="round" stroke-linejoin="round" style="display:block;"><circle cx="12" cy="12" r="10"/><path d="M12 2a14.5 14.5 0 0 0 0 20 14.5 14.5 0 0 0 0-20"/><path d="M2 12h20"/></svg></div><div style="position:absolute;left:2118.70px;top:64.45px;height:13.5px;line-height:13.5px;font-family:'Liberation Sans', sans-serif;font-size:13.5px;font-weight:700;letter-spacing:2.0px;white-space:nowrap;color:#12a5c4;-webkit-text-stroke:0.3px #12a5c4;">EN</div><div style="position:absolute;left:2161.0px;top:36.0px;width:30px;height:30px;color:#9aa8bc"><svg width="30" height="30" viewBox="0 0 24 24" fill="none" stroke="currentColor" stroke-width="1.9" stroke-linecap="round" stroke-linejoin="round" style="display:block;"><path d="M10.268 21a2 2 0 0 0 3.464 0"/><path d="M3.262 15.326A1 1 0 0 0 4 17h16a1 1 0 0 0 .74-1.673C19.41 13.956 18 12.499 18 8A6 6 0 0 0 6 8c0 4.499-1.411 5.956-2.738 7.326"/></svg></div><div style="position:absolute;left:2210px;top:27px;width:48px;height:48px;box-sizing:border-box;border-radius:50%;background:#0aa5c3;"></div><div style="position:absolute;left:2222.70px;top:43.80px;height:17px;line-height:17px;font-family:'Liberation Sans', sans-serif;font-size:17px;font-weight:700;letter-spacing:1.5px;white-space:nowrap;color:#fff;">TA</div><div style="position:absolute;left:0;top:0;width:460px;height:1638px;background:#0c1018;border-right:2px solid #1b202a;box-sizing:border-box;overflow:hidden"><svg style="position:absolute;left:16px;top:36px" width="66" height="48" viewBox="16 36 66 48" fill="none"><path d="M51.8 44.8H55.9V49.1L51.8 46.7Z" fill="#0c9dbd"/><path d="M27.2 59.6H23.2Q20.8 59.5 20.9 57.5Q21 56 22.3 55.2L43.4 41.3L49.9 45L50.4 43.9Q50.7 43 51.6 43H56.8Q57.7 43 57.7 43.9V49.4L73.4 58" stroke="#f1f5f9" stroke-width="0.9" stroke-linejoin="round" stroke-linecap="round"/><path d="M22.9 57.3L43.4 43.8L70.2 58.8L66.6 58.6L43.4 48.2L29.3 56.7L29 59.4L23.8 59.1Z" fill="#fff"/><path d="M27.95 59V75Q27.95 78.1 31.3 78.1H52" stroke="#e3e9f3" stroke-width="1.9" stroke-linecap="butt"/><path d="M52 77.05L75.2 78.5L52 79.15Z" fill="#d5ddea"/><rect x="40" y="53.2" width="3.2" height="2.75" fill="#0fa6c6"/><rect x="43.9" y="53.2" width="3.2" height="2.75" fill="#0fa6c6"/><rect x="40" y="56.6" width="3.2" height="2.75" fill="#0fa6c6"/><rect x="43.9" y="56.6" width="3.2" height="2.75" fill="#0fa6c6"/></svg><div style="position:absolute;left:95.40px;top:48.40px;height:25px;line-height:25px;font-family:'Liberation Sans', sans-serif;font-size:25px;font-weight:700;letter-spacing:0.143px;white-space:nowrap;color:#fff;background:linear-gradient(90deg,#f8fafc 0%,#dfe5ee 45%,#94a3b8 100%);-webkit-background-clip:text;background-clip:text;color:transparent;">Inzodesk</div><div style="position:absolute;left:0px;top:116px;width:458px;height:2px;box-sizing:border-box;background:#1b202a"></div><div style="position:absolute;left:39.0px;top:151.0px;width:30px;height:30px;color:#66768d"><svg width="30" height="30" viewBox="0 0 24 24" fill="none" stroke="currentColor" stroke-width="2" stroke-linecap="round" stroke-linejoin="round" style="display:block;"><rect width="7" height="9" x="3" y="3" rx="1"/><rect width="7" height="5" x="14" y="3" rx="1"/><rect width="7" height="9" x="14" y="12" rx="1"/><rect width="7" height="5" x="3" y="16" rx="1"/></svg></div><div style="position:absolute;left:85.90px;top:154.25px;height:26.5px;line-height:26.5px;font-family:'Liberation Sans', sans-serif;font-size:26.5px;font-weight:400;letter-spacing:0.725px;white-space:nowrap;color:#94a3b8;-webkit-text-stroke:0.25px #94a3b8;">Dashboard</div><div style="position:absolute;left:10px;top:204px;width:434px;height:68px;box-sizing:border-box;background:#0f1f2d;border-radius:15px;border-left:5px solid #0fa3c2;"></div><div style="position:absolute;left:39.0px;top:223.0px;width:30px;height:30px;color:#12a5c4"><svg width="30" height="30" viewBox="0 0 24 24" fill="none" stroke="currentColor" stroke-width="2" stroke-linecap="round" stroke-linejoin="round" style="display:block;"><path d="M2 9a3 3 0 0 1 0 6v2a2 2 0 0 0 2 2h16a2 2 0 0 0 2-2v-2a3 3 0 0 1 0-6V7a2 2 0 0 0-2-2H4a2 2 0 0 0-2 2Z"/><path d="M13 5v2"/><path d="M13 17v2"/><path d="M13 11v2"/></svg></div><div style="position:absolute;left:87.50px;top:226.25px;height:26.5px;line-height:26.5px;font-family:'Liberation Sans', sans-serif;font-size:26.5px;font-weight:400;letter-spacing:0.883px;white-space:nowrap;color:#e2e8f0;-webkit-text-stroke:0.25px #e2e8f0;">Tickets</div><div style="position:absolute;left:39.0px;top:295.0px;width:30px;height:30px;color:#66768d"><svg width="30" height="30" viewBox="0 0 24 24" fill="none" stroke="currentColor" stroke-width="2" stroke-linecap="round" stroke-linejoin="round" style="display:block;"><path d="M22 17a2 2 0 0 1-2 2H6.828a2 2 0 0 0-1.414.586l-2.202 2.202A.71.71 0 0 1 2 21.286V5a2 2 0 0 1 2-2h16a2 2 0 0 1 2 2z"/></svg></div><div style="position:absolute;left:86.70px;top:298.25px;height:26.5px;line-height:26.5px;font-family:'Liberation Sans', sans-serif;font-size:26.5px;font-weight:400;letter-spacing:0.6px;white-space:nowrap;color:#94a3b8;-webkit-text-stroke:0.25px #94a3b8;">Chat</div><div style="position:absolute;left:39.0px;top:367.0px;width:30px;height:30px;color:#66768d"><svg width="30" height="30" viewBox="0 0 24 24" fill="none" stroke="currentColor" stroke-width="2" stroke-linecap="round" stroke-linejoin="round" style="display:block;"><path d="M17 3a2 2 0 0 1 2 2v15a1 1 0 0 1-1.496.868l-4.512-2.578a2 2 0 0 0-1.984 0l-4.512 2.578A1 1 0 0 1 5 20V5a2 2 0 0 1 2-2z"/></svg></div><div style="position:absolute;left:86.80px;top:370.25px;height:26.5px;line-height:26.5px;font-family:'Liberation Sans', sans-serif;font-size:26.5px;font-weight:400;letter-spacing:0.275px;white-space:nowrap;color:#94a3b8;-webkit-text-stroke:0.25px #94a3b8;">Saved Filters</div><div style="position:absolute;left:39.0px;top:439.0px;width:30px;height:30px;color:#66768d"><svg width="30" height="30" viewBox="0 0 24 24" fill="none" stroke="currentColor" stroke-width="2" stroke-linecap="round" stroke-linejoin="round" style="display:block;"><path d="M12 7v14"/><path d="M3 18a1 1 0 0 1-1-1V4a1 1 0 0 1 1-1h5a4 4 0 0 1 4 4 4 4 0 0 1 4-4h5a1 1 0 0 1 1 1v13a1 1 0 0 1-1 1h-6a3 3 0 0 0-3 3 3 3 0 0 0-3-3z"/></svg></div><div style="position:absolute;left:85.90px;top:442.25px;height:26.5px;line-height:26.5px;font-family:'Liberation Sans', sans-serif;font-size:26.5px;font-weight:400;letter-spacing:0.423px;white-space:nowrap;color:#94a3b8;-webkit-text-stroke:0.25px #94a3b8;">Knowledge Base</div><div style="position:absolute;left:39.0px;top:511.0px;width:30px;height:30px;color:#66768d"><svg width="30" height="30" viewBox="0 0 24 24" fill="none" stroke="currentColor" stroke-width="2" stroke-linecap="round" stroke-linejoin="round" style="display:block;"><path d="m15.5 7.5 2.3 2.3a1 1 0 0 0 1.4 0l2.1-2.1a1 1 0 0 0 0-1.4L19 4"/><path d="m21 2-9.6 9.6"/><circle cx="7.5" cy="15.5" r="5.5"/></svg></div><div style="position:absolute;left:88.00px;top:514.25px;height:26.5px;line-height:26.5px;font-family:'Liberation Sans', sans-serif;font-size:26.5px;font-weight:400;letter-spacing:0.056px;white-space:nowrap;color:#94a3b8;-webkit-text-stroke:0.25px #94a3b8;">API Tokens</div><div style="position:absolute;left:39.0px;top:583.0px;width:30px;height:30px;color:#66768d"><svg width="30" height="30" viewBox="0 0 24 24" fill="none" stroke="currentColor" stroke-width="2" stroke-linecap="round" stroke-linejoin="round" style="display:block;"><path d="M9.671 4.136a2.34 2.34 0 0 1 4.659 0 2.34 2.34 0 0 0 3.319 1.915 2.34 2.34 0 0 1 2.33 4.033 2.34 2.34 0 0 0 0 3.831 2.34 2.34 0 0 1-2.33 4.033 2.34 2.34 0 0 0-3.319 1.915 2.34 2.34 0 0 1-4.659 0 2.34 2.34 0 0 0-3.32-1.915 2.34 2.34 0 0 1-2.33-4.033 2.34 2.34 0 0 0 0-3.831A2.34 2.34 0 0 1 6.35 6.051a2.34 2.34 0 0 0 3.319-1.915"/><circle cx="12" cy="12" r="3"/></svg></div><div style="position:absolute;left:86.80px;top:586.25px;height:26.5px;line-height:26.5px;font-family:'Liberation Sans', sans-serif;font-size:26.5px;font-weight:400;letter-spacing:0.971px;white-space:nowrap;color:#94a3b8;-webkit-text-stroke:0.25px #94a3b8;">Settings</div><div style="position:absolute;left:0px;top:642px;width:458px;height:2px;box-sizing:border-box;background:#1b202a"></div><div style="position:absolute;left:20.90px;top:682.25px;height:19.5px;line-height:19.5px;font-family:'Liberation Sans', sans-serif;font-size:19.5px;font-weight:700;letter-spacing:2.2px;white-space:nowrap;color:#46546a;">AGENT</div><div style="position:absolute;left:412.5px;top:680.0px;width:22px;height:22px;color:#55647a"><svg width="22" height="22" viewBox="0 0 24 24" fill="none" stroke="currentColor" stroke-width="2" stroke-linecap="round" stroke-linejoin="round" style="display:block;"><path d="m6 9 6 6 6-6"/></svg></div><div style="position:absolute;left:39.0px;top:737.0px;width:30px;height:30px;color:#66768d"><svg width="30" height="30" viewBox="0 0 24 24" fill="none" stroke="currentColor" stroke-width="2" stroke-linecap="round" stroke-linejoin="round" style="display:block;"><path d="M3 5h.01"/><path d="M3 12h.01"/><path d="M3 19h.01"/><path d="M8 5h13"/><path d="M8 12h13"/><path d="M8 19h13"/></svg></div><div style="position:absolute;left:86.80px;top:740.25px;height:26.5px;line-height:26.5px;font-family:'Liberation Sans', sans-serif;font-size:26.5px;font-weight:400;letter-spacing:0.28px;white-space:nowrap;color:#94a3b8;-webkit-text-stroke:0.25px #94a3b8;">Queues</div><div style="position:absolute;left:39.0px;top:811.0px;width:30px;height:30px;color:#66768d"><svg width="30" height="30" viewBox="0 0 24 24" fill="none" stroke="currentColor" stroke-width="2" stroke-linecap="round" stroke-linejoin="round" style="display:block;"><path d="M22 17a2 2 0 0 1-2 2H6.828a2 2 0 0 0-1.414.586l-2.202 2.202A.71.71 0 0 1 2 21.286V5a2 2 0 0 1 2-2h16a2 2 0 0 1 2 2z"/><path d="M7 11h10"/><path d="M7 15h6"/><path d="M7 7h8"/></svg></div><div style="position:absolute;left:86.70px;top:814.25px;height:26.5px;line-height:26.5px;font-family:'Liberation Sans', sans-serif;font-size:26.5px;font-weight:400;letter-spacing:0.173px;white-space:nowrap;color:#94a3b8;-webkit-text-stroke:0.25px #94a3b8;">Canned Responses</div><div style="position:absolute;left:39.0px;top:885.0px;width:30px;height:30px;color:#66768d"><svg width="30" height="30" viewBox="0 0 24 24" fill="none" stroke="currentColor" stroke-width="2" stroke-linecap="round" stroke-linejoin="round" style="display:block;"><path d="M5 21v-6"/><path d="M12 21V3"/><path d="M19 21V9"/></svg></div><div style="position:absolute;left:85.90px;top:888.25px;height:26.5px;line-height:26.5px;font-family:'Liberation Sans', sans-serif;font-size:26.5px;font-weight:400;letter-spacing:0.75px;white-space:nowrap;color:#94a3b8;-webkit-text-stroke:0.25px #94a3b8;">Reports</div><div style="position:absolute;left:0px;top:944px;width:458px;height:2px;box-sizing:border-box;background:#1b202a"></div><div style="position:absolute;left:20.90px;top:984.25px;height:19.5px;line-height:19.5px;font-family:'Liberation Sans', sans-serif;font-size:19.5px;font-weight:700;letter-spacing:3.575px;white-space:nowrap;color:#46546a;">ADMIN</div><div style="position:absolute;left:412.5px;top:982.0px;width:22px;height:22px;color:#55647a"><svg width="22" height="22" viewBox="0 0 24 24" fill="none" stroke="currentColor" stroke-width="2" stroke-linecap="round" stroke-linejoin="round" style="display:block;"><path d="m6 9 6 6 6-6"/></svg></div><div style="position:absolute;left:39.0px;top:1039.0px;width:30px;height:30px;color:#66768d"><svg width="30" height="30" viewBox="0 0 24 24" fill="none" stroke="currentColor" stroke-width="2" stroke-linecap="round" stroke-linejoin="round" style="display:block;"><path d="M20 13c0 5-3.5 7.5-7.66 8.95a1 1 0 0 1-.67-.01C7.5 20.5 4 18 4 13V6a1 1 0 0 1 1-1c2 0 4.5-1.2 6.24-2.72a1.17 1.17 0 0 1 1.52 0C14.51 3.81 17 5 19 5a1 1 0 0 1 1 1z"/><path d="m9 12 2 2 4-4"/></svg></div><div style="position:absolute;left:85.90px;top:1042.25px;height:26.5px;line-height:26.5px;font-family:'Liberation Sans', sans-serif;font-size:26.5px;font-weight:400;letter-spacing:0.233px;white-space:nowrap;color:#94a3b8;-webkit-text-stroke:0.25px #94a3b8;">Roles &amp; Permissions</div><div style="position:absolute;left:39.0px;top:1113.0px;width:30px;height:30px;color:#66768d"><svg width="30" height="30" viewBox="0 0 24 24" fill="none" stroke="currentColor" stroke-width="2" stroke-linecap="round" stroke-linejoin="round" style="display:block;"><path d="M16 21v-2a4 4 0 0 0-4-4H6a4 4 0 0 0-4 4v2"/><circle cx="9" cy="7" r="4"/><path d="M22 21v-2a4 4 0 0 0-3-3.87"/><path d="M16 3.13a4 4 0 0 1 0 7.75"/></svg></div><div style="position:absolute;left:86.00px;top:1116.25px;height:26.5px;line-height:26.5px;font-family:'Liberation Sans', sans-serif;font-size:26.5px;font-weight:400;letter-spacing:0.675px;white-space:nowrap;color:#94a3b8;-webkit-text-stroke:0.25px #94a3b8;">Users</div><div style="position:absolute;left:39.0px;top:1187.0px;width:30px;height:30px;color:#66768d"><svg width="30" height="30" viewBox="0 0 24 24" fill="none" stroke="currentColor" stroke-width="2" stroke-linecap="round" stroke-linejoin="round" style="display:block;"><path d="M10 18v-7"/><path d="M11.12 2.198a2 2 0 0 1 1.76.006l7.866 3.847c.476.233.31.949-.22.949H3.474c-.53 0-.695-.716-.22-.949z"/><path d="M14 18v-7"/><path d="M18 18v-7"/><path d="M3 22h18"/><path d="M6 18v-7"/></svg></div><div style="position:absolute;left:86.80px;top:1190.25px;height:26.5px;line-height:26.5px;font-family:'Liberation Sans', sans-serif;font-size:26.5px;font-weight:400;letter-spacing:0.55px;white-space:nowrap;color:#94a3b8;-webkit-text-stroke:0.25px #94a3b8;">Organizations</div><div style="position:absolute;left:39.0px;top:1261.0px;width:30px;height:30px;color:#66768d"><svg width="30" height="30" viewBox="0 0 24 24" fill="none" stroke="currentColor" stroke-width="2" stroke-linecap="round" stroke-linejoin="round" style="display:block;"><path d="M10 12h4"/><path d="M10 8h4"/><path d="M14 21v-3a2 2 0 0 0-4 0v3"/><path d="M6 10H4a2 2 0 0 0-2 2v7a2 2 0 0 0 2 2h16a2 2 0 0 0 2-2V9a2 2 0 0 0-2-2h-2"/><path d="M6 21V5a2 2 0 0 1 2-2h8a2 2 0 0 1 2 2v16"/></svg></div><div style="position:absolute;left:85.90px;top:1264.25px;height:26.5px;line-height:26.5px;font-family:'Liberation Sans', sans-serif;font-size:26.5px;font-weight:400;letter-spacing:0.9px;white-space:nowrap;color:#94a3b8;-webkit-text-stroke:0.25px #94a3b8;">Departments</div><div style="position:absolute;left:39.0px;top:1335.0px;width:30px;height:30px;color:#66768d"><svg width="30" height="30" viewBox="0 0 24 24" fill="none" stroke="currentColor" stroke-width="2" stroke-linecap="round" stroke-linejoin="round" style="display:block;"><path d="M19 21v-2a4 4 0 0 0-4-4H9a4 4 0 0 0-4 4v2"/><circle cx="12" cy="7" r="4"/></svg></div><div style="position:absolute;left:87.50px;top:1338.25px;height:26.5px;line-height:26.5px;font-family:'Liberation Sans', sans-serif;font-size:26.5px;font-weight:400;letter-spacing:0.225px;white-space:nowrap;color:#94a3b8;-webkit-text-stroke:0.25px #94a3b8;">Teams</div><div style="position:absolute;left:39.0px;top:1409.0px;width:30px;height:30px;color:#66768d"><svg width="30" height="30" viewBox="0 0 24 24" fill="none" stroke="currentColor" stroke-width="2" stroke-linecap="round" stroke-linejoin="round" style="display:block;"><circle cx="12" cy="12" r="10"/><polyline points="12 6 12 12 16 14"/></svg></div><div style="position:absolute;left:86.80px;top:1412.25px;height:26.5px;line-height:26.5px;font-family:'Liberation Sans', sans-serif;font-size:26.5px;font-weight:400;letter-spacing:0.088px;white-space:nowrap;color:#94a3b8;-webkit-text-stroke:0.25px #94a3b8;">SLA Plans</div><div style="position:absolute;left:39.0px;top:1483.0px;width:30px;height:30px;color:#66768d"><svg width="30" height="30" viewBox="0 0 24 24" fill="none" stroke="currentColor" stroke-width="2" stroke-linecap="round" stroke-linejoin="round" style="display:block;"><path d="M8 2v4"/><path d="M16 2v4"/><rect width="18" height="18" x="3" y="4" rx="2"/><path d="M3 10h18"/><path d="M8 14h.01"/><path d="M12 14h.01"/><path d="M16 14h.01"/><path d="M8 18h.01"/><path d="M12 18h.01"/><path d="M16 18h.01"/></svg></div><div style="position:absolute;left:85.90px;top:1486.25px;height:26.5px;line-height:26.5px;font-family:'Liberation Sans', sans-serif;font-size:26.5px;font-weight:400;letter-spacing:0.4px;white-space:nowrap;color:#94a3b8;-webkit-text-stroke:0.25px #94a3b8;">Business Hours</div><div style="position:absolute;left:39.0px;top:1557.0px;width:30px;height:30px;color:#66768d"><svg width="30" height="30" viewBox="0 0 24 24" fill="none" stroke="currentColor" stroke-width="2" stroke-linecap="round" stroke-linejoin="round" style="display:block;"><polyline points="22 7 13.5 15.5 8.5 10.5 2 17"/><polyline points="16 7 22 7 22 13"/></svg></div><div style="position:absolute;left:85.90px;top:1560.25px;height:26.5px;line-height:26.5px;font-family:'Liberation Sans', sans-serif;font-size:26.5px;font-weight:400;letter-spacing:0.247px;white-space:nowrap;color:#94a3b8;-webkit-text-stroke:0.25px #94a3b8;">Escalation Rules</div><div style="position:absolute;left:39.0px;top:1631.0px;width:30px;height:30px;color:#66768d"><svg width="30" height="30" viewBox="0 0 24 24" fill="none" stroke="currentColor" stroke-width="2" stroke-linecap="round" stroke-linejoin="round" style="display:block;"><circle cx="12" cy="12" r="10"/><path d="M9.09 9a3 3 0 0 1 5.83 1c0 2-3 3-3 3"/><path d="M12 17h.01"/></svg></div><div style="position:absolute;left:85.90px;top:1634.25px;height:26.5px;line-height:26.5px;font-family:'Liberation Sans', sans-serif;font-size:26.5px;font-weight:400;letter-spacing:0.66px;white-space:nowrap;color:#94a3b8;-webkit-text-stroke:0.25px #94a3b8;">Help Topics</div></div><div style="position:absolute;left:0;top:0;width:458px;height:4px;background:linear-gradient(90deg,#0aa0c2 0%,#0e96b6 14%,#1b7390 28%,#1c5e7a 55%,#163a50 78%,#0f1a26 100%)"></div><div style="position:absolute;left:437px;top:29.5px;width:42px;height:42px;box-sizing:border-box;border-radius:50%;background:#0c1018;border:2px solid #273244;"></div><div style="position:absolute;left:446.5px;top:39.0px;width:22px;height:22px;color:#cbd5e1"><svg width="22" height="22" viewBox="0 0 24 24" fill="none" stroke="currentColor" stroke-width="2" stroke-linecap="round" stroke-linejoin="round" style="display:block;"><path d="m15 18-6-6 6-6"/></svg></div></div><script>(function(){var w=window.innerWidth||2280;if(w>0&&Math.abs(w-2280)>2){document.body.style.zoom=(w/2280);}})();</script></body></html>
